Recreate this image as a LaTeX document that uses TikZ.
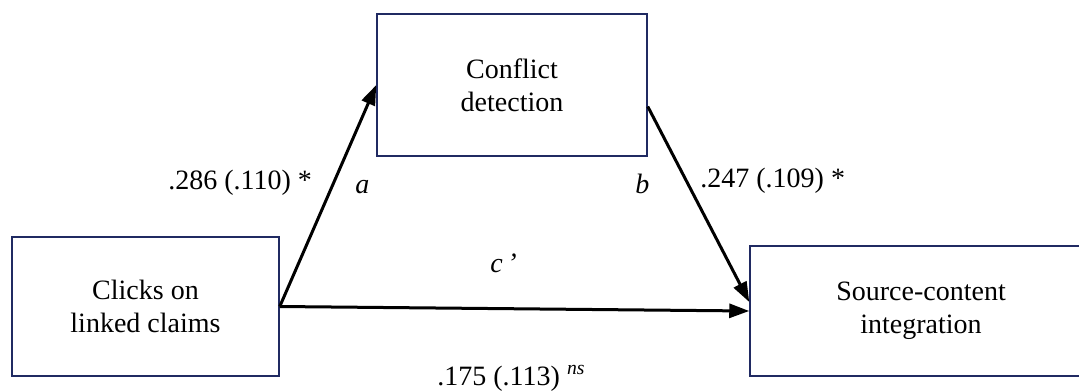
\documentclass[tikz,border=0pt]{standalone}
\usepackage{fontspec}
\setmainfont{Liberation Serif}
\usetikzlibrary{arrows.meta}
\definecolor{boxblue}{RGB}{32,42,98}

\begin{document}
\begin{tikzpicture}[
  x=0.5pt, y=-0.5pt,
  box/.style={draw=boxblue, line width=0.75pt, align=center,
              inner sep=0pt, font=\fontsize{14}{16.5}\selectfont},
  arrow/.style={-{Triangle[length=10pt,width=7pt]}, line width=1.5pt},
  lbl/.style={anchor=base west, inner sep=0pt,
              font=\fontsize{14}{16.5}\selectfont}
]
\useasboundingbox (0,0) rectangle (1079,391);
\clip (0,0) rectangle (1079,391);
\node[box, minimum width=133.5pt, minimum height=69.5pt] (clicks)   at (145.5,306.5) {Clicks on\\linked claims};
\node[box, minimum width=135pt,   minimum height=71pt]   (conflict) at (512,85)      {Conflict\\detection};
\node[box, minimum width=171pt,   minimum height=65pt]   (source)   at (921,311)     {Source-content\\integration};
\draw[arrow] (clicks.east)  -- (conflict.west);
\draw[arrow] (conflict.-9)  -- (source.177);
\draw[arrow] (clicks.east)  -- (source.west);
\node[lbl] (alabel)  at (168,189) {.286 (.110) *};
\node[lbl] (apath)   at (355,193) {\textit{a}};
\node[lbl] (bpath)   at (635,193) {\textit{b}};
\node[lbl] (blabel)  at (700,187) {.247 (.109) *};
\node[lbl] (cpath)   at (490,272) {\textit{c\,’}};
\node[lbl] (clabel)  at (437,385) {.175 (.113) \textsuperscript{\textit{ns}}};
\end{tikzpicture}
\end{document}
